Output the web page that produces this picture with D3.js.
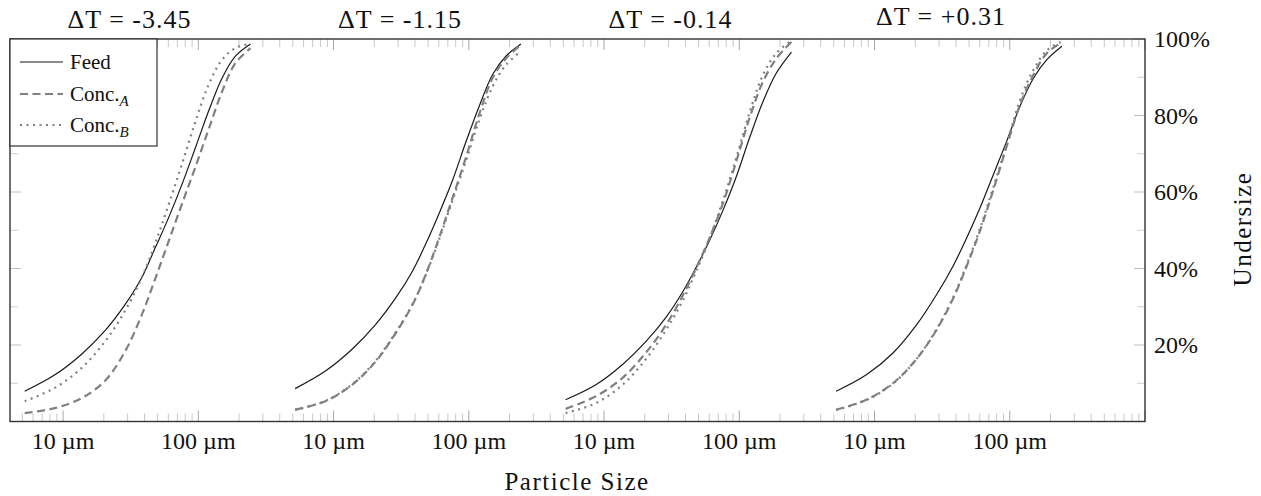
<!DOCTYPE html>
<html>
<head>
  <meta charset="utf-8">
  <title>Undersize vs particle size</title>
  <script src="https://d3js.org/d3.v7.min.js"></script>
  <style>
    body { margin: 0; background: #fff; }
  </style>
</head>
<body>
  <script>
    // particle sizes (µm) at which the curves were read, same for every panel
    let sizes = [5.2, 8.7, 13.7, 20.5, 28.8, 38.3, 48, 60.3, 75.7, 95, 119, 150, 188, 243];

    let deltaT = ["-3.45", "-1.15", "-0.14", "+0.31"];

    // undersize (%) per panel
    let feed = [
      [7.9, 12.2, 17.6, 23.8, 30.6, 37.7, 45.4, 53.3, 62.0, 71.5, 81.1, 89.8, 95.5, 98.7],
      [8.6, 13.2, 18.9, 25.4, 32.3, 39.3, 46.4, 54.4, 63.0, 73.0, 82.3, 90.7, 95.5, 98.7],
      [5.7, 9.6, 14.9, 21.0, 27.3, 34.0, 40.3, 47.3, 55.2, 64.0, 74.1, 83.7, 91.1, 96.6],
      [7.9, 12.2, 17.9, 25.3, 33.2, 40.8, 48.0, 55.9, 64.6, 73.3, 82.4, 89.8, 94.6, 98.1]
    ];
    let concA = [
      [2.2, 3.5, 6.1, 10.7, 18.4, 28.0, 37.3, 47.1, 56.9, 66.5, 76.3, 86.3, 93.7, 97.6],
      [3.1, 5.3, 9.6, 15.7, 23.1, 30.5, 38.4, 48.0, 58.4, 68.9, 80.2, 89.8, 94.9, 98.5],
      [3.3, 6.6, 11.4, 18.1, 25.3, 33.0, 40.1, 48.0, 57.0, 68.0, 79.3, 88.9, 94.9, 99.2],
      [3.1, 5.7, 10.0, 16.4, 24.0, 32.3, 40.6, 49.9, 60.6, 72.0, 82.8, 90.7, 96.3, 99.1]
    ];
    let concB = [
      [5.3, 8.8, 14.0, 21.0, 29.0, 37.8, 46.6, 56.7, 67.3, 78.3, 88.0, 94.6, 97.6, 98.8],
      [3.0, 5.4, 9.7, 15.9, 23.3, 30.6, 38.3, 47.6, 57.8, 68.0, 78.6, 87.6, 93.2, 96.8],
      [2.2, 4.8, 9.6, 16.4, 24.0, 31.7, 39.3, 47.8, 57.8, 68.9, 80.7, 90.7, 96.3, 99.6],
      [3.0, 5.6, 9.9, 16.4, 24.2, 32.6, 41.0, 50.5, 61.3, 72.4, 84.0, 92.0, 97.0, 99.4]
    ];

    let yTicks = [20, 40, 60, 80, 100];
    let yMinor = [10, 30, 50, 70, 90];
    let sizeLabels = ["10 µm", "100 µm"];

    // each panel is shifted two decades along one shared log axis
    let panelShift = [1, 1e2, 1e4, 1e6];

    let width = 1261, height = 496;
    let margin = {left: 10, right: 1145, top: 39, bottom: 421.5};
    let x0 = margin.left, x1 = margin.right, y0 = margin.top, y1 = margin.bottom;

    let svg = d3.select("body").append("svg")
      .attr("width", width)
      .attr("height", height)
      .attr("font-family", "'Liberation Serif', 'DejaVu Serif', serif")
      .attr("fill", "#111");

    let x = d3.scaleLog().domain([4.05, 1e9]).range([x0, x1]);
    let y = d3.scaleLinear().domain([0, 100]).range([y1, y0]);

    // x ticks: decades and minor ticks, bottom and top, pointing inward
    let major = d3.range(1, 10).map(function(n) { return Math.pow(10, n); });
    let minor = [];
    d3.range(0, 9).forEach(function(n) {
      d3.range(2, 10).forEach(function(m) {
        let v = m * Math.pow(10, n);
        if (v >= 4.05 && v <= 1e9) minor.push(v);
      });
    });

    let ticks = svg.append("g");
    minor.forEach(function(v) {
      ticks.append("line").attr("x1", x(v)).attr("x2", x(v))
        .attr("y1", y1).attr("y2", y1 - 8).attr("stroke", "#c8c8c8");
      ticks.append("line").attr("x1", x(v)).attr("x2", x(v))
        .attr("y1", y0).attr("y2", y0 + 8).attr("stroke", "#c8c8c8");
    });
    major.forEach(function(v) {
      ticks.append("line").attr("x1", x(v)).attr("x2", x(v))
        .attr("y1", y1).attr("y2", y1 - 11).attr("stroke", "#a8a8a8");
      ticks.append("line").attr("x1", x(v)).attr("x2", x(v))
        .attr("y1", y0).attr("y2", y0 + 11).attr("stroke", "#a8a8a8");
    });

    // y ticks on both sides
    yMinor.forEach(function(v) {
      ticks.append("line").attr("x1", x0).attr("x2", x0 + 8)
        .attr("y1", y(v)).attr("y2", y(v)).attr("stroke", "#d0d0d0");
      ticks.append("line").attr("x1", x1).attr("x2", x1 - 8)
        .attr("y1", y(v)).attr("y2", y(v)).attr("stroke", "#d0d0d0");
    });
    yTicks.forEach(function(v) {
      ticks.append("line").attr("x1", x0).attr("x2", x0 + 11)
        .attr("y1", y(v)).attr("y2", y(v)).attr("stroke", "#c0c0c0");
      ticks.append("line").attr("x1", x1).attr("x2", x1 - 11)
        .attr("y1", y(v)).attr("y2", y(v)).attr("stroke", "#c0c0c0");
    });

    // x tick labels (cycle 10 µm / 100 µm), last decade unlabeled
    major.slice(0, 8).forEach(function(v, i) {
      svg.append("text")
        .attr("x", x(v)).attr("y", y1 + 27)
        .attr("text-anchor", "middle")
        .attr("font-size", 24)
        .text(sizeLabels[i % 2]);
    });

    // y tick labels on the right
    yTicks.forEach(function(v) {
      svg.append("text")
        .attr("x", x1 + 9).attr("y", y(v))
        .attr("dy", "0.35em")
        .attr("font-size", 24)
        .text(v + "%");
    });

    // curves
    svg.append("clipPath").attr("id", "plot-clip")
      .append("rect").attr("x", x0).attr("y", y0)
      .attr("width", x1 - x0).attr("height", y1 - y0);

    let series = [
      {values: feed, stroke: "#1a1a1a", width: 1.2, dash: null},
      {values: concA, stroke: "#808080", width: 2.2, dash: "8,4.5"},
      {values: concB, stroke: "#808080", width: 2.2, dash: "2,4.5"}
    ];

    let plot = svg.append("g").attr("clip-path", "url(#plot-clip)");

    panelShift.forEach(function(shift, p) {
      series.forEach(function(s) {
        let pts = sizes.map(function(d, i) { return [d * shift, s.values[p][i]]; });
        let line = d3.line()
          .x(function(d) { return x(d[0]); })
          .y(function(d) { return y(d[1]); })
          .curve(d3.curveCatmullRom.alpha(0.5));
        plot.append("path")
          .datum(pts)
          .attr("d", line)
          .attr("fill", "none")
          .attr("stroke", s.stroke)
          .attr("stroke-width", s.width)
          .attr("stroke-dasharray", s.dash);
      });

      // panel title
      svg.append("text")
        .attr("x", x(31 * shift))
        .attr("y", p === 3 ? 25 : 28)
        .attr("text-anchor", "middle")
        .attr("font-size", 26)
        .attr("letter-spacing", 1)
        .text("\u0394T = " + deltaT[p]);
    });

    // frame
    svg.append("rect")
      .attr("x", x0).attr("y", y0)
      .attr("width", x1 - x0).attr("height", y1 - y0)
      .attr("fill", "none")
      .attr("stroke", "#333")
      .attr("stroke-width", 1.4);

    // legend
    let legend = svg.append("g");
    legend.append("rect")
      .attr("x", x0).attr("y", y0)
      .attr("width", 147).attr("height", 107)
      .attr("fill", "#fff")
      .attr("stroke", "#222")
      .attr("stroke-width", 1.1);

    let legendNames = [["Feed", null], ["Conc.", "A"], ["Conc.", "B"]];
    let legendY = [62, 94, 125];
    series.forEach(function(s, i) {
      legend.append("line")
        .attr("x1", 20).attr("x2", 63)
        .attr("y1", legendY[i]).attr("y2", legendY[i])
        .attr("stroke", s.stroke)
        .attr("stroke-width", s.width)
        .attr("stroke-dasharray", s.dash);
      let t = legend.append("text")
        .attr("x", 70).attr("y", legendY[i] + 7)
        .attr("font-size", 21)
        .text(legendNames[i][0]);
      if (legendNames[i][1]) {
        t.append("tspan")
          .attr("dy", 5)
          .attr("font-size", 15)
          .attr("font-style", "italic")
          .text(legendNames[i][1]);
      }
    });

    // axis titles
    svg.append("text")
      .attr("x", 577).attr("y", 490)
      .attr("text-anchor", "middle")
      .attr("font-size", 25)
      .attr("letter-spacing", 1.5)
      .text("Particle Size");

    svg.append("text")
      .attr("transform", "translate(1251,229) rotate(-90)")
      .attr("text-anchor", "middle")
      .attr("font-size", 25)
      .attr("letter-spacing", 1.5)
      .text("Undersize");
  </script>
</body>
</html>
